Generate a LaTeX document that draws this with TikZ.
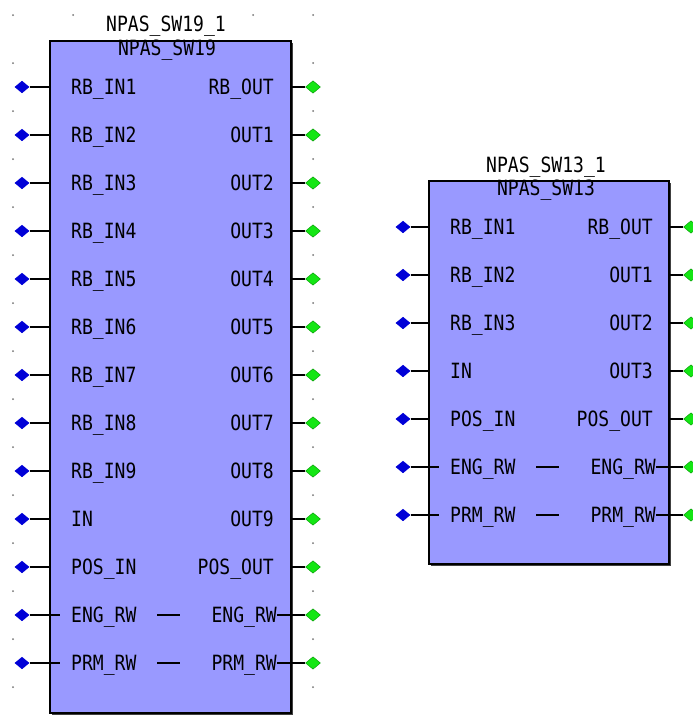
\documentclass[tikz,border=0pt]{standalone}
\usepackage{fontspec}
\newfontfamily\pf{DejaVu Sans Mono}[FakeStretch=0.86]
\usetikzlibrary{shapes.geometric}
\definecolor{boxfill}{RGB}{153,153,255}
\definecolor{pinblue}{RGB}{0,0,215}
\definecolor{pingreen}{RGB}{20,230,20}
\definecolor{pingreenedge}{RGB}{0,150,0}
\tikzset{
  blk/.style={draw=black, line width=1.6pt, fill=boxfill, rectangle, inner sep=0pt, anchor=north west},
  shadowbox/.style={fill=black!75, draw=none, rectangle, inner sep=0pt, anchor=north west},
  inpin/.style={diamond, fill=pinblue, draw=none, inner sep=0pt, minimum width=15pt, minimum height=12.5pt},
  outpin/.style={diamond, fill=pingreen, draw=pingreenedge, line width=0.4pt, inner sep=0pt, minimum width=15pt, minimum height=12.5pt},
  wire/.style={draw=black, line width=1.2pt},
  lbl/.style={font=\pf\fontsize{21}{21}\selectfont, inner sep=0pt, text=black},
  gdot/.style={fill=black!55, inner sep=0pt, minimum size=2pt, circle},
}
\begin{document}
\begin{tikzpicture}[x=1pt, y=-1pt]
\useasboundingbox (0,0) rectangle (693,728);
\fill[white] (0,0) rectangle (693,728);

% grid dots
\foreach \k in {0,...,14} {
  \pgfmathsetmacro\gy{15+48*\k}
  \node[gdot] (gl\k) at (13,\gy) {};
  \node[gdot] (gr\k) at (313,\gy) {};
}
\node[gdot] (gt1) at (73,15) {};
\node[gdot] (gt2) at (253,15) {};

% ---------- block A : NPAS_SW19 ----------
\node[shadowbox, minimum width=241pt, minimum height=672pt] (Ash) at (52,43) {};
\node[blk, minimum width=241pt, minimum height=672pt] (A) at (49,40) {};
\node[lbl, anchor=base] (Atitle) at (166,31) {NPAS\_SW19\_1};
\node[lbl, anchor=base] (Atype) at (167,55) {NPAS\_SW19};

\foreach \l/\r [count=\i from 0] in {RB\_IN1/RB\_OUT, RB\_IN2/OUT1, RB\_IN3/OUT2, RB\_IN4/OUT3, RB\_IN5/OUT4, RB\_IN6/OUT5, RB\_IN7/OUT6, RB\_IN8/OUT7, RB\_IN9/OUT8, IN/OUT9, POS\_IN/POS\_OUT} {
  \pgfmathsetmacro\yy{87+48*\i}
  \pgfmathsetmacro\yb{\yy+7}
  \node[inpin] (Ain\i) at (22,\yy) {};
  \node[outpin] (Aout\i) at (313,\yy) {};
  \draw[wire] (Ain\i) -- (Ain\i -| A.west);
  \draw[wire] (Aout\i) -- (Aout\i -| A.east);
  \node[lbl, anchor=base west] (Al\i) at (71,\yb) {\l};
  \node[lbl, anchor=base east] (Ar\i) at (274,\yb) {\r};
}
\foreach \l [count=\i from 11] in {ENG\_RW, PRM\_RW} {
  \pgfmathsetmacro\yy{87+48*\i}
  \pgfmathsetmacro\yb{\yy+7}
  \node[inpin] (Ain\i) at (22,\yy) {};
  \node[outpin] (Aout\i) at (313,\yy) {};
  \node[lbl, anchor=base west] (Al\i) at (71,\yb) {\l};
  \node[lbl, anchor=base east] (Ar\i) at (277,\yb) {\l};
  \draw[wire] (Ain\i) -- ([xshift=11pt]Ain\i -| A.west);
  \draw[wire] ([xshift=108pt]Ain\i -| A.west) -- ([xshift=131pt]Ain\i -| A.west);
  \draw[wire] (Aout\i) -- (Aout\i -| Ar\i.east);
}

% ---------- block B : NPAS_SW13 ----------
\node[shadowbox, minimum width=240pt, minimum height=383pt] (Bsh) at (431,183) {};
\node[blk, minimum width=240pt, minimum height=383pt] (B) at (428,180) {};
\node[lbl, anchor=base] (Btitle) at (546,172) {NPAS\_SW13\_1};
\node[lbl, anchor=base] (Btype) at (546,195) {NPAS\_SW13};

\foreach \l/\r [count=\i from 0] in {RB\_IN1/RB\_OUT, RB\_IN2/OUT1, RB\_IN3/OUT2, IN/OUT3, POS\_IN/POS\_OUT} {
  \pgfmathsetmacro\yy{227+48*\i}
  \pgfmathsetmacro\yb{\yy+7}
  \node[inpin] (Bin\i) at (403,\yy) {};
  \node[outpin] (Bout\i) at (691,\yy) {};
  \draw[wire] (Bin\i) -- (Bin\i -| B.west);
  \draw[wire] (Bout\i) -- (Bout\i -| B.east);
  \node[lbl, anchor=base west] (Bl\i) at (450,\yb) {\l};
  \node[lbl, anchor=base east] (Br\i) at (653,\yb) {\r};
}
\foreach \l [count=\i from 5] in {ENG\_RW, PRM\_RW} {
  \pgfmathsetmacro\yy{227+48*\i}
  \pgfmathsetmacro\yb{\yy+7}
  \node[inpin] (Bin\i) at (403,\yy) {};
  \node[outpin] (Bout\i) at (691,\yy) {};
  \node[lbl, anchor=base west] (Bl\i) at (450,\yb) {\l};
  \node[lbl, anchor=base east] (Br\i) at (656,\yb) {\l};
  \draw[wire] (Bin\i) -- ([xshift=11pt]Bin\i -| B.west);
  \draw[wire] ([xshift=108pt]Bin\i -| B.west) -- ([xshift=131pt]Bin\i -| B.west);
  \draw[wire] (Bout\i) -- (Bout\i -| Br\i.east);
}
\end{tikzpicture}
\end{document}
